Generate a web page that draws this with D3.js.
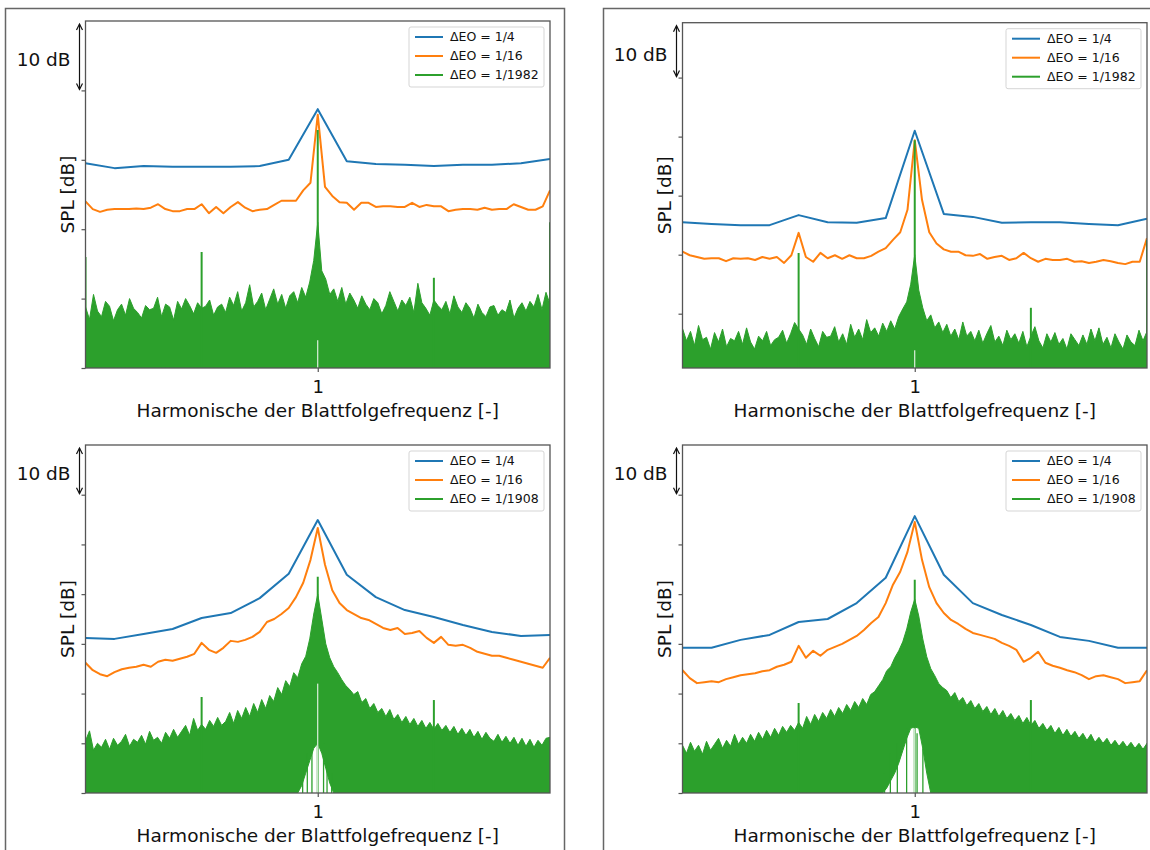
<!DOCTYPE html>
<html><head><meta charset="utf-8">
<script src="https://cdn.jsdelivr.net/npm/d3@7"></script>
<style>body{margin:0;background:#fff} svg{display:block} text{font-family:"DejaVu Sans",sans-serif;fill:#111}</style>
</head><body><svg id="c" width="1150" height="850"></svg>
<script>
// ---------------- data ----------------
const eoRange = [-1, 3];
const xTickValues = [1];
const xTickLabels = ["1"];
const xLabel = "Harmonische der Blattfolgefrequenz [-]";
const yLabel = "SPL [dB]";
const scaleLabel = "10 dB";
const seriesColors = ["#1f77b4", "#ff7f0e", "#2ca02c"];
const legendTop = ["ΔEO = 1/4", "ΔEO = 1/16", "ΔEO = 1/1982"];
const legendBottom = ["ΔEO = 1/4", "ΔEO = 1/16", "ΔEO = 1/1908"];

// panel 1 (top left)
const yDomain1 = [0, 50], yTicks1 = [0, 10, 20, 30, 40], scaleBar1 = [50, 40];
const blue1 = [29.5,28.8,29.1,29.0,29.0,29.0,29.1,30.0,37.3,29.8,29.4,29.3,29.1,29.3,29.3,29.5,30.1];
const orange1 = [24.0,22.9,22.5,22.8,22.9,22.9,22.9,23.0,22.9,23.1,23.6,22.9,22.6,22.6,22.9,22.9,23.6,22.3,23.2,22.3,23.2,23.9,23.1,22.6,22.8,22.9,23.5,24.1,24.1,24.1,25.6,26.7,36.5,26.1,24.8,23.9,23.8,22.8,23.8,23.8,23.2,23.3,23.3,23.2,23.2,23.8,23.2,23.5,23.3,23.3,22.6,22.8,22.9,22.9,22.8,23.1,22.8,22.9,22.9,23.6,23.2,22.8,22.8,23.3,25.6];
const greenHi1 = [8.8,7.0,10.6,8.2,7.4,9.6,8.9,6.8,8.4,9.2, 7.6,10.0,8.6,8.0,7.2,9.0,8.4,8.6,10.2,7.4, 9.2,8.8,6.9,9.6,8.5,10.0,9.0,7.8,9.4,8.6, 8.9,9.8,7.6,8.8,9.2,8.0,10.2,9.0,11.0,8.2, 9.4,12.0,8.8,9.6,10.8,8.4,9.9,11.4,9.2,10.6, 8.6,10.4,11.0,9.4,11.6,10.2,12.4,15.5,21.0,14.0, 12.8,10.6,11.4,9.6,11.6,9.2,10.8,9.8,8.6,10.4, 9.2,8.4,10.0,9.4,7.8,9.0,11.0,9.6,8.2,9.8, 9.0,10.2,8.0,12.2,9.4,8.6,7.6,9.8,9.0,8.4, 9.6,7.8,10.4,8.8,8.0,9.4,8.6,7.2,9.2,8.0, 7.4,8.8,9.0,7.6,8.4,8.0,9.8,7.2,8.6,9.4, 8.2,9.6,8.8,10.6,8.4,10.9,9.2];
const greenLoIdx1 = [], greenLo1 = [];
const spikeX1 = [-1, 0, 1, 2, 3], spikeV1 = [16, 16.7, 34.3, 13, 21];
const innerX1 = [], innerV1 = [];
const gapV1 = 4.0;

// panel 2 (top right)
const yDomain2 = [-9.2, 49.3], yTicks2 = [0, 10, 20, 30, 40], scaleBar2 = [49.3, 40];
const blue2 = [15.5,15.2,15.0,15.0,16.7,15.5,15.4,16.2,31.0,16.9,16.4,15.4,15.5,15.5,15.2,15.0,16.1];
const orange2 = [10.5,9.9,9.6,9.3,9.4,9.4,8.9,9.4,9.3,9.4,9.1,9.6,9.3,9.6,8.6,9.9,13.7,9.6,8.8,10.3,9.4,9.9,9.3,9.9,9.4,9.4,9.8,10.5,11.1,12.5,13.8,17.6,29.4,19.3,13.8,11.9,10.9,10.5,10.5,9.9,9.8,10.1,9.3,9.6,9.8,9.1,9.4,10.3,9.4,8.8,9.3,9.1,9.1,9.3,8.8,8.9,8.6,8.8,9.1,8.9,8.6,8.4,8.8,8.8,12.8];
const greenHi2 = [-2.5,-4.6,-3.0,-5.4,-2.0,-4.4,-4.0,-6.0,-3.2,-4.8, -2.6,-5.6,-4.2,-4.6,-3.0,-5.2,-2.4,-4.8,-6.0,-3.8, -4.6,-3.0,-5.4,-4.4,-4.0,-2.8,-5.0,-3.4,-1.5,-2.6, -3.6,-5.2,-2.6,-4.2,-5.6,-3.0,-4.0,-3.8,-2.2,-4.8, -3.4,-5.2,-1.8,-4.0,-2.6,-4.4,-1.0,-3.2,-2.4,-3.8, -1.6,-3.0,-1.2,-2.6,-0.5,0.8,2.0,5.0,10.0,4.0, 1.0,-1.2,-0.2,-2.4,-1.4,-3.2,-1.8,-3.8,-2.6,-4.4, -1.4,-3.8,-3.0,-4.6,-2.8,-5.0,-3.4,-2.0,-4.8,-3.8, -5.4,-2.8,-4.4,-3.4,-5.0,-3.0,-5.6,-3.8,-2.2,-4.6, -5.8,-3.4,-4.8,-3.2,-5.2,-4.2,-6.0,-3.4,-4.4,-5.4, -3.6,-5.2,-2.6,-4.6,-2.4,-5.2,-4.0,-5.8,-3.4,-4.8, -6.0,-3.6,-4.8,-5.4,-2.8,-4.6,-3.0];
const greenLoIdx2 = [], greenLo2 = [];
const spikeX2 = [0, 1, 2, 3], spikeV2 = [10.3, 29.4, 1.0, 12.5];
const innerX2 = [], innerV2 = [];
const gapV2 = -6.2;

// panel 3 (bottom left)
const yDomain3 = [0, 70], yTicks3 = [0, 10, 20, 30, 40, 50, 60], scaleBar3 = [70, 60];
const blue3 = [31.2,31.0,32.0,33.0,35.2,36.2,39.2,44.1,54.9,43.9,39.4,36.8,35.4,33.8,32.4,31.6,31.8];
const orange3 = [26.2,24.7,23.9,23.5,24.3,24.9,25.2,25.4,25.8,25.4,26.4,26.8,26.6,27.0,27.4,28.0,30.2,28.8,28.2,29.2,30.6,30.4,30.8,31.4,32.4,34.4,35.0,36.0,37.2,39.4,42.3,46.9,53.3,45.9,40.8,38.2,36.8,36.0,35.2,34.8,34.0,33.2,32.8,33.2,32.0,32.2,32.6,31.2,30.2,31.4,29.8,29.6,29.8,29.2,28.4,28.0,27.6,27.6,27.2,26.8,26.4,26.0,25.6,25.2,27.2];
const greenHi3 = [10.5,12.5,8.6,10.0,9.2,10.8,8.8,11.0,9.6,10.4, 11.8,9.4,10.8,10.2,11.6,9.8,12.4,10.6,11.2,10.0, 12.2,11.0,12.8,11.2,12.4,13.6,11.6,15.0,12.6,13.8, 12.8,14.6,13.4,15.2,13.6,14.4,16.2,14.0,16.6,15.0, 17.2,15.4,18.0,16.2,18.8,17.0,19.6,18.4,21.2,19.8, 22.6,21.4,24.2,23.2,26.0,27.5,31.0,36.0,40.0,35.0, 30.0,27.2,25.4,24.2,22.8,21.6,20.8,19.8,20.4,18.2, 19.0,17.0,18.0,16.2,17.0,15.4,16.8,14.8,15.8,14.2, 15.4,13.8,15.0,13.4,14.6,13.0,14.2,12.8,14.0,12.6, 13.6,12.2,13.4,11.8,13.0,11.6,12.8,11.2,12.4,10.8, 12.2,11.0,10.4,11.8,10.2,11.4,10.0,11.2,9.6,11.0, 9.4,10.8,9.2,10.6,9.6,11.0,11.2];
const greenLoIdx3 = [53,54,55,56,57,58,59,60,61,62];
const greenLo3 = [0,1.5,4,6.5,9,10,8,5,2,0];
const spikeX3 = [0, 1, 2], spikeV3 = [19.3, 43.5, 18.7];
const innerX3 = [0.87, 0.91, 0.95, 1.05, 1.08, 1.12], innerV3 = [5, 8, 11, 10, 7, 4];
const gapV3 = 22;

// panel 4 (bottom right)
const yDomain4 = [0, 70], yTicks4 = [0, 10, 20, 30, 40, 50, 60], scaleBar4 = [70, 60];
const blue4 = [29.2,29.2,30.8,31.8,34.4,35.0,38.2,43.3,55.7,43.9,38.2,35.8,33.8,31.4,30.6,29.2,29.2];
const orange4 = [24.7,23.1,22.1,22.3,22.5,22.3,22.9,23.3,23.7,23.9,24.1,24.5,24.7,25.4,25.8,26.4,29.6,27.2,28.6,27.6,28.8,29.4,30.0,30.8,31.6,32.8,34.2,35.4,38.2,41.9,44.5,48.5,54.5,46.9,41.4,38.2,36.2,34.8,34.0,33.0,32.2,31.8,31.4,31.0,30.2,29.6,28.8,26.4,27.2,28.4,26.2,25.6,25.2,24.7,24.3,23.7,22.9,23.5,23.7,23.3,22.9,22.1,22.3,22.5,24.7];
const greenHi4 = [9.6,8.0,10.2,8.4,9.6,7.8,10.4,8.6,9.8,11.0, 9.0,10.6,9.4,11.8,9.8,11.2,10.0,11.8,10.4,12.2, 10.8,12.6,11.2,13.0,11.6,13.4,12.2,13.6,12.6,14.2, 13.0,15.4,13.8,15.8,14.4,16.2,15.0,16.8,15.4,17.2, 16.0,17.8,16.6,18.4,17.2,19.0,17.8,19.8,20.4,21.6, 22.8,24.6,25.4,27.2,28.6,30.4,33.0,36.4,39.0,35.6, 31.0,27.4,25.0,23.6,22.0,21.2,20.6,19.2,20.2,18.4, 19.2,17.6,18.6,17.0,18.0,16.4,17.4,15.8,17.0,15.4, 16.6,15.0,16.0,14.6,15.6,14.0,15.2,13.6,14.6,13.0, 14.0,12.6,13.6,12.0,13.2,11.6,12.8,11.4,12.4,11.0, 12.0,10.6,11.8,10.2,11.2,10.0,11.0,9.6,10.6,9.4, 10.4,9.2,10.2,9.0,10.0,8.8,10.0];
const greenLoIdx4 = [50,51,52,53,54,55,56,57,58,59,60,61,62];
const greenLo4 = [0,1,2.5,4,6,8.5,11,13,13.3,13,9,4,0];
const spikeX4 = [0, 1, 2], spikeV4 = [18.1, 42.9, 18.7];
const innerX4 = [0.74, 0.79, 0.85, 0.93, 1.02, 1.07], innerV4 = [4, 8, 10, 13, 12, 9];
const gapV4 = 13;

// ---------------- drawing ----------------
const svg = d3.select("#c");
const AX = "#555";

// outer frames
svg.append("rect").attr("x", 5.5).attr("y", 8.5).attr("width", 559).attr("height", 900)
  .attr("fill", "none").attr("stroke", "#666").attr("stroke-width", 1.5);
svg.append("rect").attr("x", 603.5).attr("y", 8.5).attr("width", 600).attr("height", 900)
  .attr("fill", "none").attr("stroke", "#666").attr("stroke-width", 1.5);

const panels = [
  {L: 85.5, R: 550, T: 21, B: 368, yDomain: yDomain1, ticks: yTicks1, bar: scaleBar1, blue: blue1, orange: orange1,
   hi: greenHi1, loIdx: greenLoIdx1, lo: greenLo1, sx: spikeX1, sv: spikeV1, ix: innerX1, iv: innerV1, gap: gapV1, legend: legendTop},
  {L: 682.5, R: 1147, T: 22.7, B: 368, yDomain: yDomain2, ticks: yTicks2, bar: scaleBar2, blue: blue2, orange: orange2,
   hi: greenHi2, loIdx: greenLoIdx2, lo: greenLo2, sx: spikeX2, sv: spikeV2, ix: innerX2, iv: innerV2, gap: gapV2, legend: legendTop},
  {L: 85.5, R: 550, T: 445, B: 793, yDomain: yDomain3, ticks: yTicks3, bar: scaleBar3, blue: blue3, orange: orange3,
   hi: greenHi3, loIdx: greenLoIdx3, lo: greenLo3, sx: spikeX3, sv: spikeV3, ix: innerX3, iv: innerV3, gap: gapV3, legend: legendBottom},
  {L: 682.5, R: 1147, T: 445, B: 793, yDomain: yDomain4, ticks: yTicks4, bar: scaleBar4, blue: blue4, orange: orange4,
   hi: greenHi4, loIdx: greenLoIdx4, lo: greenLo4, sx: spikeX4, sv: spikeV4, ix: innerX4, iv: innerV4, gap: gapV4, legend: legendBottom}
];

panels.forEach((p, pi) => {
  const x = d3.scaleLinear().domain(eoRange).range([p.L, p.R]);
  const y = d3.scaleLinear().domain(p.yDomain).range([p.B, p.T]);
  const g = svg.append("g");
  const clipId = "clip" + pi;
  svg.append("clipPath").attr("id", clipId).append("rect")
    .attr("x", p.L).attr("y", p.T).attr("width", p.R - p.L).attr("height", p.B - p.T);
  const plot = g.append("g").attr("clip-path", `url(#${clipId})`);

  const stepOf = arr => (eoRange[1] - eoRange[0]) / (arr.length - 1);
  const lineFor = arr => d3.line().x((d, i) => x(eoRange[0] + i * stepOf(arr))).y(d => y(d));

  plot.append("path").attr("d", lineFor(p.blue)(p.blue)).attr("fill", "none")
    .attr("stroke", seriesColors[0]).attr("stroke-width", 2).attr("stroke-linejoin", "round");
  plot.append("path").attr("d", lineFor(p.orange)(p.orange)).attr("fill", "none")
    .attr("stroke", seriesColors[1]).attr("stroke-width", 2).attr("stroke-linejoin", "round");

  const loMap = new Map(p.loIdx.map((k, j) => [k, p.lo[j]]));
  const gStep = stepOf(p.hi);
  const area = d3.area()
    .x((d, i) => x(eoRange[0] + i * gStep))
    .y0((d, i) => y(loMap.has(i) ? Math.max(loMap.get(i), p.yDomain[0]) : p.yDomain[0]))
    .y1(d => y(d));
  plot.append("path").attr("d", area(p.hi)).attr("fill", seriesColors[2])
    .attr("stroke", seriesColors[2]).attr("stroke-width", 1);

  plot.selectAll("line.spike").data(p.sx.map((sx, j) => ({x: sx, v: p.sv[j]}))).join("line")
    .attr("class", "spike")
    .attr("x1", d => x(d.x)).attr("x2", d => x(d.x))
    .attr("y1", y(p.yDomain[0])).attr("y2", d => y(d.v))
    .attr("stroke", seriesColors[2]).attr("stroke-width", 2);

  plot.selectAll("line.inner").data(p.ix.map((ix, j) => ({x: ix, v: p.iv[j]}))).join("line")
    .attr("class", "inner")
    .attr("x1", d => x(d.x)).attr("x2", d => x(d.x))
    .attr("y1", y(p.yDomain[0])).attr("y2", d => y(d.v))
    .attr("stroke", seriesColors[2]).attr("stroke-width", 1.3);

  plot.append("line").attr("x1", x(1)).attr("x2", x(1))
    .attr("y1", y(p.yDomain[0])).attr("y2", y(p.gap))
    .attr("stroke", "#fff").attr("stroke-width", 1);

  // axes
  const yAxis = g.append("g").attr("transform", `translate(${p.L},0)`)
    .call(d3.axisLeft(y).tickValues(p.ticks).tickFormat("").tickSizeInner(4).tickSizeOuter(0));
  yAxis.select(".domain").remove();
  yAxis.selectAll(".tick line").attr("stroke", AX).attr("stroke-width", 1.2);

  const xAxis = g.append("g").attr("transform", `translate(0,${p.B})`)
    .call(d3.axisBottom(x).tickValues(xTickValues).tickFormat((d, i) => xTickLabels[i]).tickSizeInner(4).tickSizeOuter(0));
  xAxis.select(".domain").remove();
  xAxis.selectAll(".tick line").attr("stroke", AX).attr("stroke-width", 1.2);
  xAxis.selectAll(".tick text").attr("font-size", 18).attr("font-family", "DejaVu Sans").attr("fill", "#111").attr("dy", "1.0em");

  g.append("rect").attr("x", p.L).attr("y", p.T).attr("width", p.R - p.L).attr("height", p.B - p.T)
    .attr("fill", "none").attr("stroke", AX).attr("stroke-width", 1.3);

  // labels
  g.append("text").attr("x", (p.L + p.R) / 2).attr("y", p.B + 49).attr("text-anchor", "middle")
    .attr("font-size", 18.5).text(xLabel);
  g.append("text").attr("transform", `translate(${p.L - 12},${(p.T + p.B) / 2}) rotate(-90)`)
    .attr("text-anchor", "middle").attr("font-size", 18.5).text(yLabel);

  // 10 dB scale bar
  const ax = p.L - 6, y0 = y(p.bar[0]) + 3, y1 = y(p.bar[1]) - 1;
  g.append("line").attr("x1", ax).attr("x2", ax).attr("y1", y0).attr("y2", y1).attr("stroke", "#111").attr("stroke-width", 1.2);
  g.append("path").attr("d", `M${ax - 3},${y0 + 6}L${ax},${y0}L${ax + 3},${y0 + 6}`).attr("fill", "none").attr("stroke", "#111").attr("stroke-width", 1.2);
  g.append("path").attr("d", `M${ax - 3},${y1 - 6}L${ax},${y1}L${ax + 3},${y1 - 6}`).attr("fill", "none").attr("stroke", "#111").attr("stroke-width", 1.2);
  g.append("text").attr("x", p.L - 15).attr("y", (y0 + y1) / 2 + 3).attr("dy", "0.35em")
    .attr("text-anchor", "end").attr("font-size", 18.5).text(scaleLabel);

  // legend
  const lx = p.R - 141, ly = p.T + 6;
  g.append("rect").attr("x", lx).attr("y", ly).attr("width", 135).attr("height", 60).attr("rx", 2)
    .attr("fill", "#fff").attr("fill-opacity", 0.85).attr("stroke", "#d5d5d5").attr("stroke-width", 1);
  p.legend.forEach((lab, j) => {
    const ry = ly + 10 + j * 19;
    g.append("line").attr("x1", lx + 6).attr("x2", lx + 34).attr("y1", ry).attr("y2", ry)
      .attr("stroke", seriesColors[j]).attr("stroke-width", 2);
    g.append("text").attr("x", lx + 41).attr("y", ry).attr("dy", "0.35em").attr("font-size", 12.5).text(lab);
  });
});
</script>
</body></html>
